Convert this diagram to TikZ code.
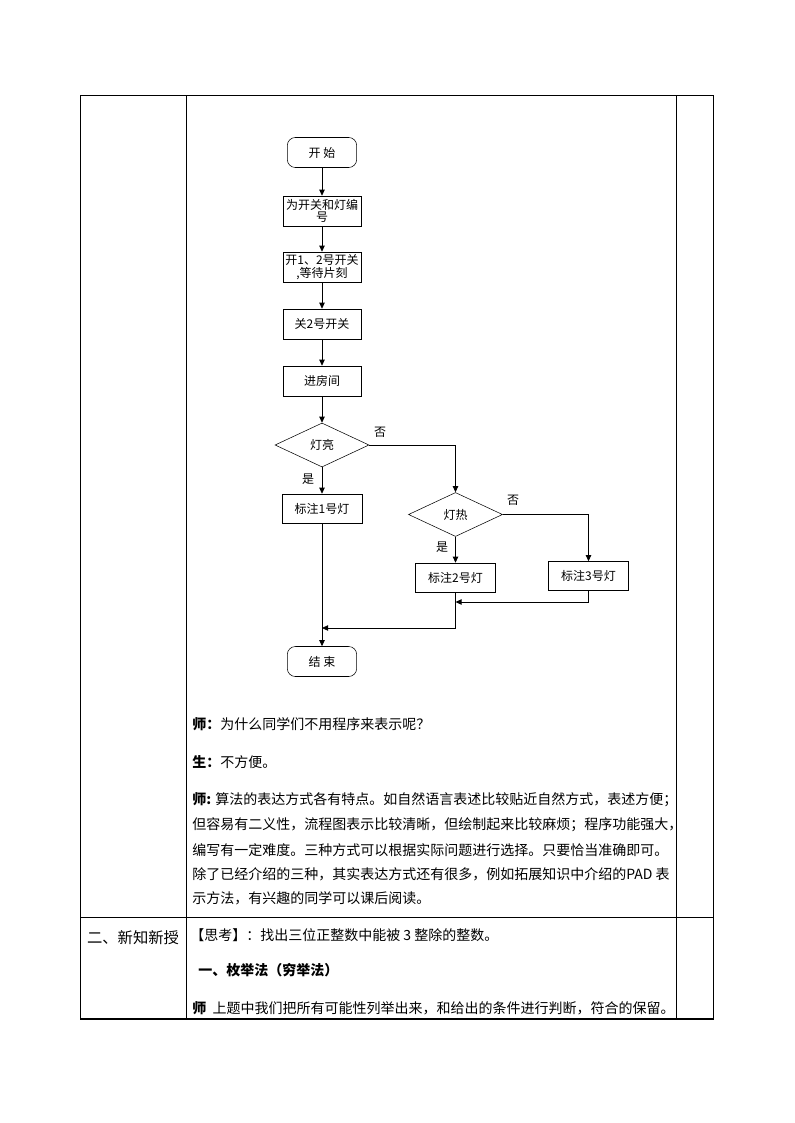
\documentclass[tikz,border=0pt]{standalone}
\usepackage{fontspec}
\setmainfont{Noto Sans CJK SC}
\usetikzlibrary{shapes.geometric,arrows.meta}
\tikzset{
	term/.style={draw,rounded corners=6pt,minimum width=52pt,minimum height=22.5pt,inner sep=0pt,font=\fontsize{9}{10}\selectfont},
	proc/.style={draw,minimum width=58.5pt,minimum height=22.5pt,inner sep=0pt,align=center,font=\fontsize{9}{9.5}\selectfont},
	tagbox/.style={draw,minimum width=60pt,minimum height=21.75pt,inner sep=0pt,font=\fontsize{9}{10}\selectfont},
	decide/.style={draw,diamond,minimum width=70.5pt,minimum height=33pt,inner sep=0pt,font=\fontsize{9}{10}\selectfont},
	flow/.style={-{Triangle[length=4.5pt,width=4pt]},line width=0.6pt},
	yesno/.style={inner sep=0pt,font=\fontsize{9}{10}\selectfont},
	body/.style={anchor=west,inner sep=0pt,font=\fontsize{10.5}{12}\selectfont},
}
\begin{document}
\begin{tikzpicture}[x=0.75pt,y=-0.75pt]
		\useasboundingbox (0,0) rectangle (794,1123);
		%%%%% TABLE %%%%%
		\draw[line width=0.75pt] (80,96) rectangle (713,1019);
		\draw[line width=0.75pt] (186,96) -- (186,1019);
		\draw[line width=0.75pt] (676,96) -- (676,1019);
		\draw[line width=0.75pt] (80,917) -- (713,917);
		\draw[line width=1.2pt] (80,1019) -- (713,1019);
		
		%%%%% FLOWCHART %%%%%
		\node[term] (start) at (322,152.5) {开\ 始};
		\node[proc] (number) at (322,211) {为开关和灯编\\号};
		\node[proc] (switchon) at (322,267) {开1、2号开关\\,等待片刻};
		\node[proc] (switchoff) at (322,324) {关2号开关};
		\node[proc] (enter) at (322,381) {进房间};
		\node[decide] (lit) at (322,445) {灯亮};
		\node[tagbox] (lamp1) at (322,508.5) {标注1号灯};
		\node[decide] (hot) at (455.5,514.5) {灯热};
		\node[tagbox] (lamp2) at (455.5,577.5) {标注2号灯};
		\node[tagbox] (lamp3) at (588.5,576) {标注3号灯};
		\node[term] (stop) at (322,661.5) {结\ 束};
		
		\coordinate (join2) at (455.5,602);
		\coordinate (join1) at (322,628);
		
		\draw[flow] (start) -- (number);
		\draw[flow] (number) -- (switchon);
		\draw[flow] (switchon) -- (switchoff);
		\draw[flow] (switchoff) -- (enter);
		\draw[flow] (enter) -- (lit);
		\draw[flow] (lit) -- (lamp1);
		\draw[flow] (lit.east) -| (hot.north);
		\draw[flow] (hot) -- (lamp2);
		\draw[flow] (hot.east) -| (lamp3.north);
		\draw[flow] (lamp3.south) |- (join2);
		\draw[flow] (lamp2.south) |- (join1);
		\draw[flow] (lamp1) -- (stop);
		
		\node[yesno] (no1) at (380,432) {否};
		\node[yesno] (yes1) at (308,479) {是};
		\node[yesno] (no2) at (513,500) {否};
		\node[yesno] (yes2) at (442,547) {是};
		
		%%%%% TEXT %%%%%
		\node[body] (ask) at (192,724) {\textbf{师：}为什么同学们不用程序来表示呢？};
		\node[body] (reply) at (192,762) {\textbf{生：}不方便。};
		\node[body] (para1) at (192,800) {\textbf{师:} 算法的表达方式各有特点。如自然语言表述比较贴近自然方式，表述方便；};
		\node[body] (para2) at (192,825) {但容易有二义性，流程图表示比较清晰，但绘制起来比较麻烦；程序功能强大，};
		\node[body] (para3) at (192,850) {编写有一定难度。三种方式可以根据实际问题进行选择。只要恰当准确即可。};
		\node[body] (para4) at (192,874) {除了已经介绍的三种，其实表达方式还有很多，例如拓展知识中介绍的PAD 表};
		\node[body] (para5) at (192,898) {示方法，有兴趣的同学可以课后阅读。};
		
		\node[inner sep=0pt,font=\fontsize{11.5}{13}\selectfont] (stage) at (133,938) {二、新知新授};
		\node[body] (think) at (190,935) {【思考】：找出三位正整数中能被 3 整除的整数。};
		\node[body] (method) at (198,970) {\textbf{一、枚举法（穷举法）}};
		\node[body] (explain) at (192,1008) {\textbf{师}\ \ 上题中我们把所有可能性列举出来，和给出的条件进行判断，符合的保留。};
		%%%%% END %%%%%
\end{tikzpicture}
\end{document}
